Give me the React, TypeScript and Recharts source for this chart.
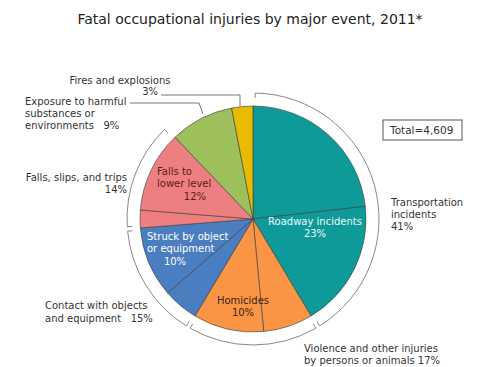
import React from 'react';
import { PieChart, Pie, Cell } from 'recharts';

// sub-events (slices), clockwise from 12 o'clock
const sliceNames = [
  'Roadway incidents',
  'Other transportation',
  'Other violence',
  'Homicides',
  'Other contact',
  'Struck by object or equipment',
  'Other falls',
  'Falls to lower level',
  'Exposure to harmful substances or environments',
  'Fires and explosions',
];
const sliceValues = [23, 18, 7, 10, 5, 10, 2.5, 11.5, 9, 3];
const sliceColors = [
  '#0f9a9a', '#0f9a9a', '#f99544', '#f99544', '#4a7ec0',
  '#4a7ec0', '#ee7f80', '#ee7f80', '#9dc05c', '#e8ba00',
];

// major events
const groupNames = [
  'Transportation incidents',
  'Violence and other injuries by persons or animals',
  'Contact with objects and equipment',
  'Falls, slips, and trips',
  'Exposure to harmful substances or environments',
  'Fires and explosions',
];
const groupValues = [41, 17, 15, 14, 9, 3];
const bracketed = [true, true, true, true, false, false];

const sliceData = sliceNames.map((name, i) => ({ name, value: sliceValues[i] }));
const groupData = groupNames.map((name, i) => ({ name, value: groupValues[i], bracket: bracketed[i] }));

const W = 495;
const H = 367;
const CX = 253;
const CY = 219;
const R = 113;
const FONT = '"DejaVu Sans", Verdana, sans-serif';
const TXT = '#333';

const RAD = Math.PI / 180;
const polar = (cx: number, cy: number, r: number, a: number) => ({
  x: cx + Math.cos(-a * RAD) * r,
  y: cy + Math.sin(-a * RAD) * r,
});

// draws the outer bracket arc for a major event
const renderBracket = (props: any) => {
  const { cx, cy, startAngle, endAngle, payload, index } = props;
  if (!payload || !payload.bracket) return null;
  const outer = 126;
  const inner = 121;
  const a1 = startAngle - 1;
  const a2 = endAngle + 1;
  const p1i = polar(cx, cy, inner, a1);
  const p1o = polar(cx, cy, outer, a1);
  const p2o = polar(cx, cy, outer, a2);
  const p2i = polar(cx, cy, inner, a2);
  const large = Math.abs(a1 - a2) > 180 ? 1 : 0;
  const d = `M${p1i.x},${p1i.y} L${p1o.x},${p1o.y} A${outer},${outer} 0 ${large} 1 ${p2o.x},${p2o.y} L${p2i.x},${p2i.y}`;
  return <path key={`br-${index}`} d={d} fill="none" stroke="#888" strokeWidth={1} />;
};

const t = (x: number, y: number, s: string, anchor: 'start' | 'middle' | 'end' = 'start', fill = TXT) => (
  <text x={x} y={y} textAnchor={anchor} fill={fill} fontSize={10} fontFamily={FONT} style={{ whiteSpace: 'pre' }}>
    {s}
  </text>
);

export default function App() {
  return (
    <div style={{ position: 'absolute', left: 0, top: 0, width: W, height: H, background: '#fff' }}>
      <PieChart width={W} height={H} margin={{ top: 0, right: 0, bottom: 0, left: 0 }}>
        <Pie
          data={sliceData}
          dataKey="value"
          cx={CX}
          cy={CY}
          outerRadius={R}
          startAngle={90}
          endAngle={-270}
          stroke="#3a3a3a"
          strokeWidth={0.6}
          isAnimationActive={false}
        >
          {sliceData.map((d, i) => (
            <Cell key={d.name} fill={sliceColors[i]} />
          ))}
        </Pie>
        <Pie
          data={groupData}
          dataKey="value"
          cx={CX}
          cy={CY}
          innerRadius={121}
          outerRadius={126}
          startAngle={90}
          endAngle={-270}
          fill="none"
          stroke="none"
          label={renderBracket}
          labelLine={false}
          isAnimationActive={false}
        />
      </PieChart>
      <svg width={W} height={H} style={{ position: 'absolute', left: 0, top: 0, pointerEvents: 'none' }}>
        <text x={250} y={24} textAnchor="middle" fill="#222" fontSize={14} fontFamily={FONT}>
          Fatal occupational injuries by major event, 2011*
        </text>

        {/* Total box */}
        <rect x={383} y={120} width={79} height={20} fill="none" stroke="#555" strokeWidth={1} />
        <text x={390} y={134} fill={TXT} fontSize={10.5} fontFamily={FONT}>Total=4,609</text>

        {/* outside labels */}
        {t(120, 84, 'Fires and explosions', 'middle')}
        {t(158, 95, '3%', 'end')}
        <polyline points="161,95 240,95 240,106" fill="none" stroke="#777" strokeWidth={1} />

        {t(25, 105, 'Exposure to harmful')}
        {t(25, 117, 'substances or')}
        {t(25, 129, 'environments   9%')}
        <polyline points="130,103 199,103 203,114" fill="none" stroke="#777" strokeWidth={1} />

        {t(127, 181, 'Falls, slips, and trips', 'end')}
        {t(127, 193, '14%', 'end')}

        {t(45, 309, 'Contact with objects')}
        {t(45, 322, 'and equipment   15%')}

        {t(304, 352, 'Violence and other injuries')}
        {t(304, 364, 'by persons or animals 17%')}

        {t(391, 206, 'Transportation')}
        {t(391, 218, 'incidents')}
        {t(391, 230, '41%')}

        {/* inside labels */}
        {t(315, 225, 'Roadway incidents', 'middle', '#eef8f8')}
        {t(315, 237, '23%', 'middle', '#eef8f8')}

        {t(157, 175, 'Falls to', 'start', '#5a1c1c')}
        {t(157, 187, 'lower level', 'start', '#5a1c1c')}
        {t(206, 200, '12%', 'end', '#5a1c1c')}

        {t(147, 240, 'Struck by object', 'start', '#ffffff')}
        {t(147, 252, 'or equipment', 'start', '#ffffff')}
        {t(175, 265, '10%', 'middle', '#ffffff')}

        {t(243, 304, 'Homicides', 'middle', '#3b2410')}
        {t(243, 316, '10%', 'middle', '#3b2410')}
      </svg>
    </div>
  );
}
